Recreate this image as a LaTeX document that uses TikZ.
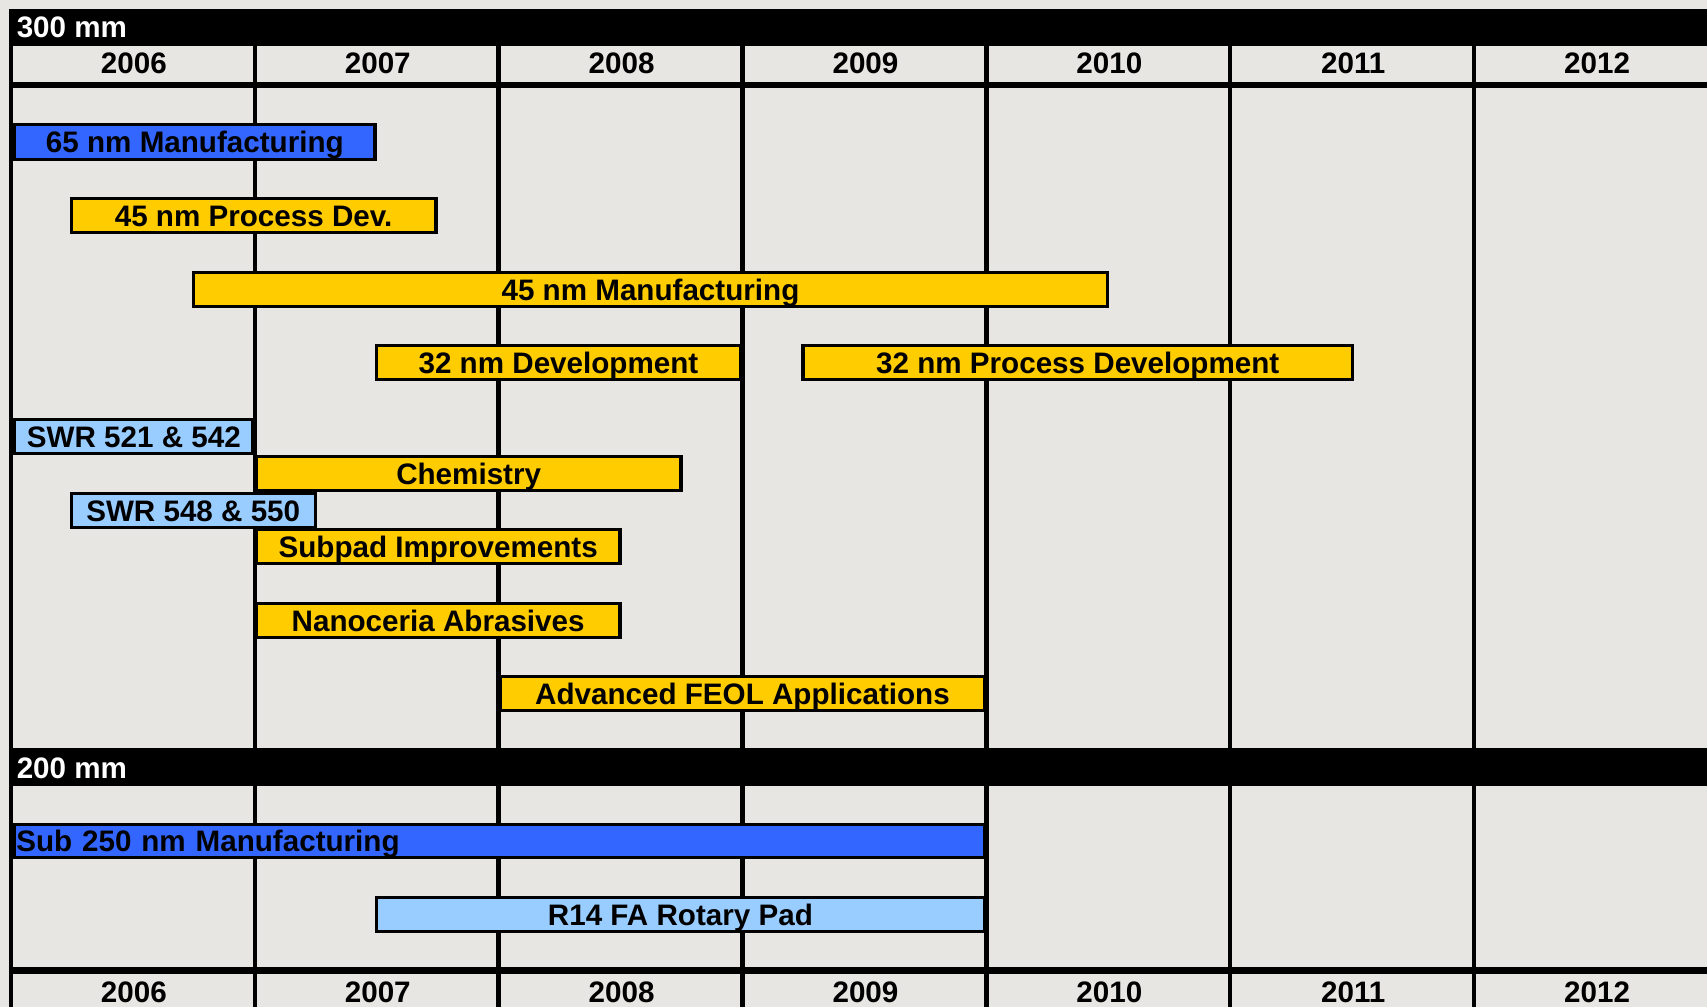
\documentclass[tikz,border=0pt]{standalone}
\usepackage{fontspec}
\setmainfont{Liberation Sans}
\begin{document}
\definecolor{paper}{RGB}{232,230,226}
\definecolor{barblue}{RGB}{51,102,255}
\definecolor{bargold}{RGB}{255,204,0}
\definecolor{barsky}{RGB}{153,204,255}
\tikzset{
  task/.style={draw=black, line width=1.5pt, inner sep=0pt, outer sep=0pt,
    font=\fontsize{13.6}{15}\selectfont\bfseries, text=black,
    text height=9.74pt, text depth=0pt},
  yearlbl/.style={font=\fontsize{13.6}{15}\selectfont\bfseries, text=black, inner sep=0pt,
    text height=9.74pt, text depth=0pt},
  bandlbl/.style={font=\fontsize{13.6}{15}\selectfont\bfseries, text=white, inner sep=0pt,
    anchor=west, text height=9.74pt, text depth=0pt},
  gridline/.style={line width=2pt, black},
}
% task bar: name, style, x1, y1, x2, y2, label
\newcommand\taskbox[7]{%
  \node[task,#2,minimum width={(#5-#3-3)*0.5pt},minimum height={(#6-#4-3)*0.5pt}]
    (#1) at ({(#3+#5)/2},{(#4+#6)/2}) {#7};}
\begin{tikzpicture}[x=0.5pt,y=-0.5pt]
\useasboundingbox (0,0) rectangle (1568,925);
\clip (0,0) rectangle (1568,925);
\fill[paper] (0,0) rectangle (1568,925);

% year columns
\foreach \xx in {10,234,458,682,906,1130,1354}
  \draw[gridline] (\xx,42) -- (\xx,925);

% black bands and rules
\fill[black] (8,8) rectangle (1568,42);
\fill[black] (8,75) rectangle (1568,81);
\fill[black] (8,687) rectangle (1568,722);
\fill[black] (8,888) rectangle (1568,895);

\node[bandlbl] (band300) at (15,25) {300 mm};
\node[bandlbl] (band200) at (15,705) {200 mm};

% year labels, top and bottom
\foreach \yr [count=\i from 0] in {2006,2007,2008,2009,2010,2011,2012} {
  \node[yearlbl] (top\yr) at ({123+224*\i},58) {\yr};
  \node[yearlbl] (bot\yr) at ({123+224*\i},911) {\yr};
}

% 300 mm programmes
\taskbox{m65}{fill=barblue}{12}{113}{346}{148}{65 nm Manufacturing}
\taskbox{pd45}{fill=bargold}{64}{181}{402}{215}{45 nm Process Dev.}
\taskbox{m45}{fill=bargold}{176}{249}{1019}{283}{45 nm Manufacturing}
\taskbox{dev32}{fill=bargold}{344}{316}{682}{350}{32 nm Development}
\taskbox{pdev32}{fill=bargold}{736}{316}{1244}{350}{32 nm Process Development}
\taskbox{swra}{fill=barsky}{12}{384}{234}{418}{SWR 521 \& 542}
\taskbox{chem}{fill=bargold}{234}{418}{627}{452}{Chemistry}
\taskbox{swrb}{fill=barsky}{64}{452}{291}{486}{SWR 548 \& 550}
\taskbox{subpad}{fill=bargold}{234}{485}{571}{519}{Subpad Improvements}
\taskbox{nano}{fill=bargold}{234}{553}{571}{587}{Nanoceria Abrasives}
\taskbox{feol}{fill=bargold}{458}{620}{906}{654}{Advanced FEOL Applications}

% 200 mm programmes
\node[task,fill=barblue,text width={(906-12-3)*0.5pt},align=left,
  minimum height={(789-756-3)*0.5pt}] (sub250) at ({(12+906)/2},{(756+789)/2})
  {\hspace*{0.75pt}Sub 250 nm Manufacturing};
\taskbox{r14}{fill=barsky}{344}{823}{906}{857}{R14 FA Rotary Pad}
\end{tikzpicture}
\end{document}
